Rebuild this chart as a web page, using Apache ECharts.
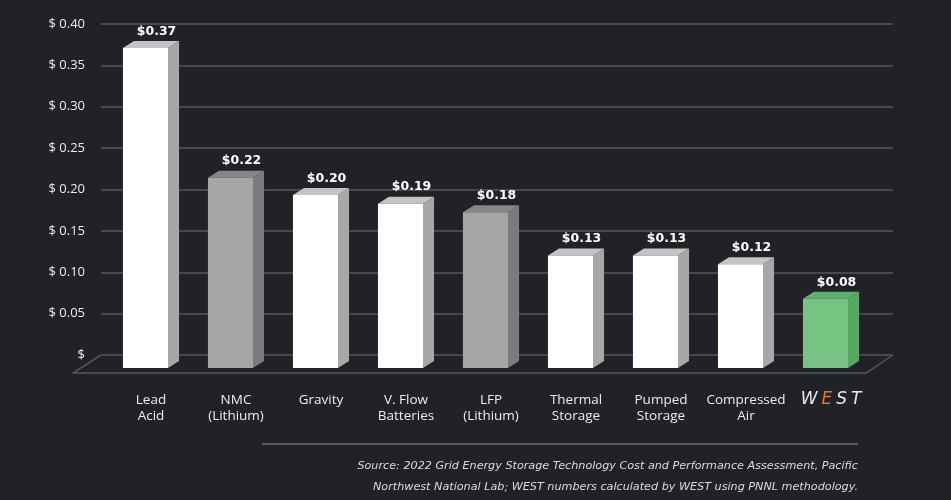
<!DOCTYPE html>
<html>
<head>
<meta charset="utf-8">
<script src="https://cdn.jsdelivr.net/npm/echarts@6/dist/echarts.min.js"></script>
<style>
  html, body { margin: 0; padding: 0; background: #212228; }
  #chart { width: 951px; height: 500px; }
</style>
</head>
<body>
<div id="chart"></div>
<script>
/* storage cost per kWh - 3D-style bars */
const categories = ['Lead\nAcid', 'NMC\n(Lithium)', 'Gravity', 'V. Flow\nBatteries', 'LFP\n(Lithium)',
  'Thermal\nStorage', 'Pumped\nStorage', 'Compressed\nAir', 'WEST'];
const values = [0.37, 0.22, 0.20, 0.19, 0.18, 0.13, 0.13, 0.12, 0.08];
const yTicks = [0, 0.05, 0.10, 0.15, 0.20, 0.25, 0.30, 0.35, 0.40];
const sourceLines = [
  'Source: 2022 Grid Energy Storage Technology Cost and Performance Assessment, Pacific',
  'Northwest National Lab; WEST numbers calculated by WEST using PNNL methodology.',
];

(function () {
  const FONT = '"Open Sans", "DejaVu Sans", sans-serif';
  const WIDE = '"DejaVu Sans", sans-serif';
  const tones = {
    white: { front: '#ffffff', side: '#a7a7a7', top: '#c4c4c4' },
    grey: { front: '#a6a6a6', side: '#7b7b7b', top: '#878787' },
    green: { front: '#77c482', side: '#56a862', top: '#5fb26b' },
  };
  const toneOf = name => {
    if (name === 'WEST') return tones.green;
    if (name.indexOf('(Lithium)') >= 0) return tones.grey;
    return tones.white;
  };

  const chart = echarts.init(document.getElementById('chart'));

  function renderBar(params, api) {
    const i = api.value(0);
    const v = api.value(1);
    const top = api.coord([i, v]);
    const base = api.coord([i, 0]);
    const bw = api.size([1, 0])[0];
    const cx = top[0];
    const fl = cx - bw * 0.33, fr = cx + bw * 0.2;
    const dx = bw * 0.13, dy = -7;
    const t = toneOf(categories[i]);
    return {
      type: 'group',
      children: [
        { type: 'polygon', shape: { points: [[fr, top[1]], [fr + dx, top[1] + dy], [fr + dx, base[1] + dy], [fr, base[1]]] }, style: { fill: t.side } },
        { type: 'polygon', shape: { points: [[fl, top[1]], [fl + dx, top[1] + dy], [fr + dx, top[1] + dy], [fr, top[1]]] }, style: { fill: t.top } },
        { type: 'rect', shape: { x: fl, y: top[1], width: fr - fl, height: base[1] - top[1] }, style: { fill: t.front } },
        {
          type: 'text',
          style: {
            x: (fl + fr) / 2 + dx, y: top[1] + dy - 3,
            text: '$' + v.toFixed(2), fill: '#ffffff',
            font: 'bold 12.5px ' + WIDE, align: 'center', verticalAlign: 'bottom',
          },
        },
      ],
    };
  }

  const logo = { color: '#e8e8e8', fontSize: 17, fontStyle: 'italic', fontWeight: 'lighter', fontFamily: WIDE, padding: [0, 2] };

  chart.setOption({
    backgroundColor: '#212228',
    animation: false,
    grid: [
      { left: 101, right: 58, top: 24, bottom: 145 },
      { left: 108.5, right: 77.5, top: 22, bottom: 132 },
    ],
    xAxis: [
      { gridIndex: 0, type: 'value', show: false, min: 0, max: 1 },
      {
        gridIndex: 1, type: 'category', data: categories,
        axisLine: { show: false }, axisTick: { show: false },
        axisLabel: {
          interval: 0, margin: 24, color: '#ececec', fontSize: 13.5, fontFamily: FONT, lineHeight: 16,
          formatter: v => v === 'WEST' ? '{w|W}{e|E}{w|S}{w|T}' : v,
          rich: {
            w: logo,
            e: Object.assign({}, logo, { color: '#e0782c' }),
          },
        },
      },
    ],
    yAxis: [
      {
        gridIndex: 0, type: 'value', min: yTicks[0], max: yTicks[yTicks.length - 1], interval: 0.05,
        axisLine: { show: false }, axisTick: { show: false },
        splitLine: { lineStyle: { color: '#56575c', width: 1.5 } },
        axisLabel: {
          margin: 16, color: '#ececec', fontSize: 13, fontFamily: FONT, padding: [0, 0, 7, 0],
          formatter: v => v === 0 ? '$' : '$ ' + v.toFixed(2),
        },
      },
      { gridIndex: 1, type: 'value', min: 0, max: 0.4, show: false },
    ],
    graphic: [
      { type: 'polyline', shape: { points: [[101, 355], [73, 373], [866, 373], [893, 355]] }, style: { stroke: '#56575c', lineWidth: 1.5, fill: null }, silent: true },
      { type: 'line', shape: { x1: 262, y1: 444, x2: 858, y2: 444 }, style: { stroke: '#6b6b70', lineWidth: 1.5 }, silent: true },
      { type: 'text', right: 93, top: 461, style: { text: sourceLines[0], fill: '#dcdcdc', font: 'italic 11.2px ' + WIDE, align: 'right' } },
      { type: 'text', right: 93, top: 482, style: { text: sourceLines[1], fill: '#dcdcdc', font: 'italic 11.2px ' + WIDE, align: 'right' } },
    ],
    series: [
      {
        type: 'custom', xAxisIndex: 1, yAxisIndex: 1,
        renderItem: renderBar,
        data: values.map((v, i) => [i, v]),
        z: 3,
      },
    ],
  });
  window.addEventListener('resize', () => chart.resize());
})();
</script>
</body>
</html>
